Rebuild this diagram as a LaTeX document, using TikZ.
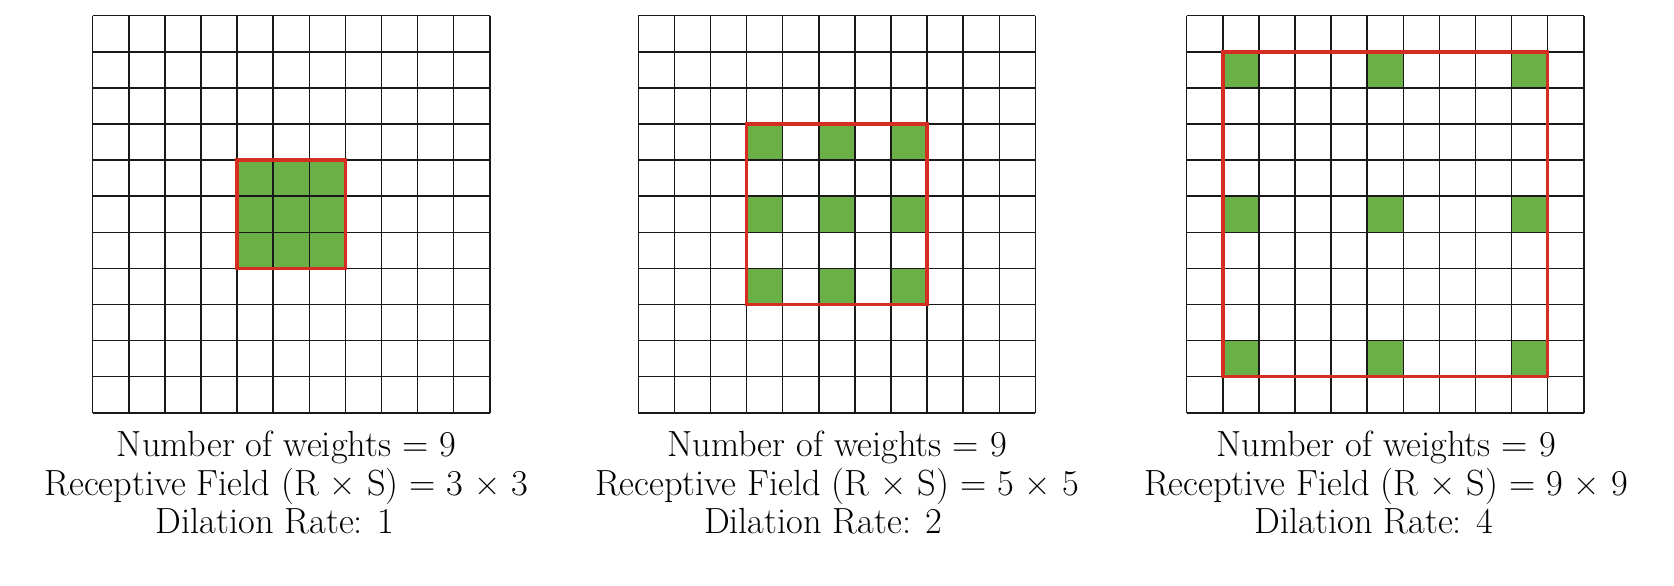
\documentclass[tikz,border=0pt]{standalone}
\definecolor{kgreen}{RGB}{106,176,70}
\definecolor{kred}{RGB}{212,46,34}
\tikzset{
  gridline/.style={draw=black!90, line width=0.75pt},
  redbox/.style={draw=kred, line width=1.7pt},
  cellfill/.style={fill=kgreen},
  lbl/.style={font=\fontsize{18.2}{21}\selectfont, inner sep=0pt, anchor=base}
}
\begin{document}
\begin{tikzpicture}[x=0.5pt,y=-0.5pt]
\useasboundingbox (0,0) rectangle (1674,585);
\def\cs{36.1}
\def\gy{15.7}
\foreach \gx/\d/\tx/\dx/\n in {92.7/1/286.5/275/3, 638.3/2/837/823.3/5, 1186.7/4/1386/1374/9}{
  % green weight cells
  \foreach \a in {-1,0,1}{
    \foreach \b in {-1,0,1}{
      \fill[cellfill] ({\gx+(5+\a*\d)*\cs},{\gy+(5+\b*\d)*\cs}) rectangle ++(\cs,\cs);
    }
  }
  % grid
  \foreach \i in {0,...,11}{
    \draw[gridline] ({\gx+\i*\cs},\gy) -- ({\gx+\i*\cs},{\gy+11*\cs});
    \draw[gridline] (\gx,{\gy+\i*\cs}) -- ({\gx+11*\cs},{\gy+\i*\cs});
  }
  % receptive field
  \draw[redbox] ({\gx+(5-\d)*\cs},{\gy+(5-\d)*\cs}) rectangle ({\gx+(6+\d)*\cs},{\gy+(6+\d)*\cs});
  % labels
  \node[lbl] (w\d) at (\tx,456.7) {Number of weights = 9};
  \node[lbl] (r\d) at (\tx,495) {Receptive Field (R × S) = \n\ × \n};
  \node[lbl] (dl\d) at (\dx,533.3) {Dilation Rate: \d};
}
\end{tikzpicture}
\end{document}
